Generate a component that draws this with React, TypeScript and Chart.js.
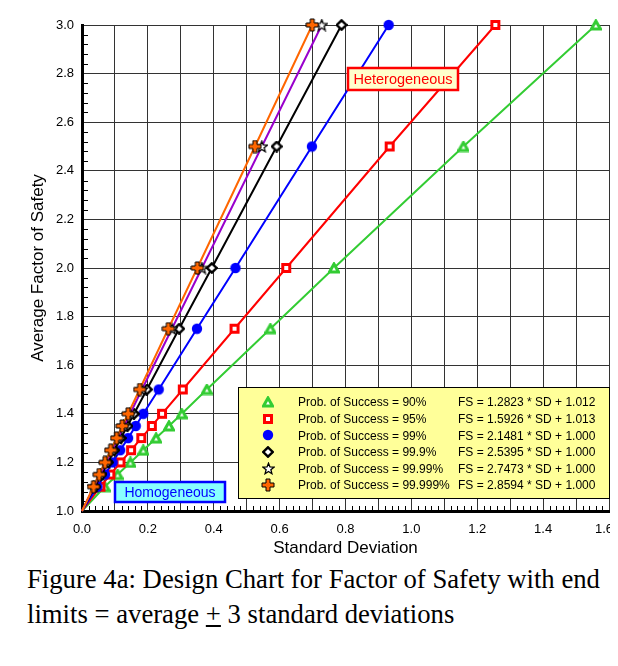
import React, { useEffect, useRef } from 'react';
import { Chart, registerables } from 'chart.js';

Chart.register(...registerables);

// Average factor of safety levels (y) shared by every series; first point is the common origin.
const FS_LEVELS = [1.0, 1.1, 1.15, 1.2, 1.25, 1.3, 1.35, 1.4, 1.5, 1.75, 2.0, 2.5, 3.0];

// Standard deviation (x) at each FS level, one list per probability of success.
const SD_90 = [0, 0.069, 0.108, 0.147, 0.186, 0.225, 0.264, 0.303, 0.379, 0.572, 0.765, 1.158, 1.56];
const SD_95 = [0, 0.056, 0.086, 0.117, 0.149, 0.18, 0.212, 0.243, 0.306, 0.463, 0.62, 0.934, 1.255];
const SD_99 = [0, 0.047, 0.07, 0.093, 0.116, 0.14, 0.163, 0.186, 0.233, 0.349, 0.466, 0.698, 0.931];
const SD_999 = [0, 0.039, 0.059, 0.079, 0.098, 0.118, 0.138, 0.158, 0.197, 0.295, 0.394, 0.591, 0.788];
const SD_9999 = [0, 0.036, 0.055, 0.073, 0.091, 0.109, 0.127, 0.146, 0.182, 0.273, 0.364, 0.546, 0.728];
const SD_99999 = [0, 0.035, 0.052, 0.07, 0.087, 0.105, 0.122, 0.14, 0.175, 0.262, 0.35, 0.525, 0.699];

const SERIES_LABELS = [
  'Prob. of Success = 90%',
  'Prob. of Success = 95%',
  'Prob. of Success = 99%',
  'Prob. of Success = 99.9%',
  'Prob. of Success = 99.99%',
  'Prob. of Success = 99.999%',
];

const EQUATIONS = [
  'FS = 1.2823 * SD + 1.012',
  'FS = 1.5926 * SD + 1.013',
  'FS = 2.1481 * SD + 1.000',
  'FS = 2.5395 * SD + 1.000',
  'FS = 2.7473 * SD + 1.000',
  'FS = 2.8594 * SD + 1.000',
];

// Labelled x ticks (gridlines are every 0.1)
const X_TICK_VALUES = [0, 0.2, 0.4, 0.6, 0.8, 1.0, 1.2, 1.4, 1.6];
const X_TICK_LABELS = ['0.0', '0.2', '0.4', '0.6', '0.8', '1.0', '1.2', '1.4', '1.6'];

const COLORS = ['#33CC33', '#FF0000', '#0000FF', '#000000', '#9900CC', '#FF6600'];

const X_TITLE = 'Standard Deviation';
const Y_TITLE = 'Average Factor of Safety';
const CAPTION_1 = 'Figure 4a: Design Chart for Factor of Safety with end';

const SANS = '"Liberation Sans", Arial, sans-serif';

type Painter = (c: CanvasRenderingContext2D, s: number) => void;

function marker(size: number, paint: Painter): HTMLCanvasElement {
  const cv = document.createElement('canvas');
  cv.width = size;
  cv.height = size;
  const c = cv.getContext('2d')!;
  paint(c, size);
  return cv;
}

function buildMarkers(): HTMLCanvasElement[] {
  const triangle = marker(12, (c) => {
    c.beginPath();
    c.moveTo(6, 2);
    c.lineTo(10.5, 10);
    c.lineTo(1.5, 10);
    c.closePath();
    c.fillStyle = '#ffffff';
    c.fill();
    c.strokeStyle = COLORS[0];
    c.lineWidth = 3;
    c.lineJoin = 'miter';
    c.stroke();
  });
  const square = marker(12, (c) => {
    c.fillStyle = '#ffffff';
    c.fillRect(2, 2, 8, 8);
    c.strokeStyle = COLORS[1];
    c.lineWidth = 3;
    c.strokeRect(2.5, 2.5, 7, 7);
  });
  const circle = marker(12, (c) => {
    c.beginPath();
    c.arc(6, 6, 5.2, 0, Math.PI * 2);
    c.fillStyle = COLORS[2];
    c.fill();
  });
  const diamond = marker(12, (c) => {
    c.beginPath();
    c.moveTo(6, 1.3);
    c.lineTo(10.7, 6);
    c.lineTo(6, 10.7);
    c.lineTo(1.3, 6);
    c.closePath();
    c.fillStyle = '#ffffff';
    c.fill();
    c.strokeStyle = '#000000';
    c.lineWidth = 2.4;
    c.stroke();
  });
  const star = marker(13, (c) => {
    c.beginPath();
    for (let k = 0; k < 10; k++) {
      const r = k % 2 === 0 ? 5.8 : 2.5;
      const ang = -Math.PI / 2 + (k * Math.PI) / 5;
      const px = 6.5 + r * Math.cos(ang);
      const py = 7 + r * Math.sin(ang);
      if (k === 0) c.moveTo(px, py);
      else c.lineTo(px, py);
    }
    c.closePath();
    c.fillStyle = '#ffffff';
    c.fill();
    c.strokeStyle = '#000000';
    c.lineWidth = 1.3;
    c.stroke();
  });
  const cross = marker(14, (c) => {
    const m = 7;
    const h = 2;
    const L = 6;
    c.beginPath();
    c.moveTo(m - h, m - L);
    c.lineTo(m + h, m - L);
    c.lineTo(m + h, m - h);
    c.lineTo(m + L, m - h);
    c.lineTo(m + L, m + h);
    c.lineTo(m + h, m + h);
    c.lineTo(m + h, m + L);
    c.lineTo(m - h, m + L);
    c.lineTo(m - h, m + h);
    c.lineTo(m - L, m + h);
    c.lineTo(m - L, m - h);
    c.lineTo(m - h, m - h);
    c.closePath();
    c.fillStyle = COLORS[5];
    c.fill();
    c.strokeStyle = '#000000';
    c.lineWidth = 1;
    c.stroke();
  });
  return [triangle, square, circle, diamond, star, cross];
}

function boxedLabel(
  ctx: CanvasRenderingContext2D,
  left: number,
  top: number,
  w: number,
  h: number,
  fill: string,
  stroke: string,
  text: string,
  fontPx: number,
) {
  ctx.save();
  ctx.fillStyle = fill;
  ctx.fillRect(left, top, w, h);
  ctx.strokeStyle = stroke;
  ctx.lineWidth = 2.5;
  ctx.strokeRect(left, top, w, h);
  ctx.fillStyle = stroke;
  ctx.font = `${fontPx}px ${SANS}`;
  ctx.textAlign = 'center';
  ctx.textBaseline = 'middle';
  ctx.fillText(text, left + w / 2, top + h / 2 + 1);
  ctx.restore();
}

export default function App() {
  const canvasRef = useRef<HTMLCanvasElement | null>(null);

  useEffect(() => {
    const canvas = canvasRef.current;
    if (!canvas) return;
    const markers = buildMarkers();
    const series = [SD_90, SD_95, SD_99, SD_999, SD_9999, SD_99999];

    const datasets = series.map((sd, i) => ({
      label: SERIES_LABELS[i],
      data: sd.map((x, j) => ({ x, y: FS_LEVELS[j] })),
      borderColor: COLORS[i],
      backgroundColor: COLORS[i],
      borderWidth: 2,
      pointStyle: markers[i],
      pointRadius: (c: any) => (c.dataIndex === 0 ? 0 : 5),
      fill: false,
      tension: 0,
      clip: false as any,
      order: series.length - i,
    }));

    const decorations = {
      id: 'decorations',
      afterDraw(chart: any) {
        const { ctx, chartArea: a, scales } = chart;
        const xs = scales.x;
        // x tick labels; the last one is pulled in so it stays inside the canvas
        ctx.save();
        ctx.font = `13px ${SANS}`;
        ctx.fillStyle = '#000';
        ctx.textAlign = 'center';
        ctx.textBaseline = 'top';
        X_TICK_VALUES.forEach((v, i) => {
          const text = X_TICK_LABELS[i];
          const w = ctx.measureText(text).width;
          const px = Math.min(xs.getPixelForValue(v), a.right + 4 - w / 2);
          ctx.fillText(text, px, a.bottom + 12);
        });
        ctx.restore();
      },
      beforeDatasetsDraw(chart: any) {
        const { ctx, chartArea: a, scales } = chart;
        const xs = scales.x;
        const ys = scales.y;
        ctx.save();
        ctx.strokeStyle = '#000';
        ctx.lineWidth = 1;
        ctx.beginPath();
        // minor ticks on the x axis every 0.02
        for (let k = 1; k < 80; k++) {
          if (k % 5 === 0) continue;
          const px = Math.round(xs.getPixelForValue(k * 0.02)) + 0.5;
          ctx.moveTo(px, a.bottom);
          ctx.lineTo(px, a.bottom - 5);
        }
        // minor ticks on the y axis every 0.04
        for (let k = 1; k < 50; k++) {
          if (k % 5 === 0) continue;
          const py = Math.round(ys.getPixelForValue(1 + k * 0.04)) + 0.5;
          ctx.moveTo(a.left, py);
          ctx.lineTo(a.left + 6, py);
        }
        ctx.stroke();
        ctx.restore();
      },
      afterDatasetsDraw(chart: any) {
        const { ctx, chartArea: a } = chart;

        boxedLabel(ctx, a.left + 266, a.top + 43, 110, 22, '#FFFFCC', '#FF0000', 'Heterogeneous', 14.5);
        boxedLabel(ctx, a.left + 33, a.top + 457, 110, 20, '#88FFFF', '#0000FF', 'Homogeneous', 14);

        // legend panel, anchored to the right edge of the plot
        const lw = 371;
        const lh = 111;
        const lx = a.right - lw;
        const ly = a.top + 362;
        ctx.save();
        ctx.fillStyle = '#FFFF99';
        ctx.fillRect(lx, ly, lw, lh);
        ctx.strokeStyle = '#000';
        ctx.lineWidth = 1;
        ctx.strokeRect(lx + 0.5, ly + 0.5, lw, lh);
        ctx.font = `12px ${SANS}`;
        ctx.fillStyle = '#000';
        ctx.textAlign = 'left';
        ctx.textBaseline = 'middle';
        for (let i = 0; i < SERIES_LABELS.length; i++) {
          const cy = ly + 15 + i * 16.6;
          const m = markers[i];
          ctx.drawImage(m, Math.round(lx + 30 - m.width / 2), Math.round(cy - m.height / 2));
          ctx.fillText(SERIES_LABELS[i], lx + 60, cy + 1);
          ctx.fillText(EQUATIONS[i], lx + 220, cy + 1);
        }
        ctx.restore();
      },
    };

    const chart = new Chart(canvas, {
      type: 'line',
      data: { datasets: datasets as any },
      options: {
        animation: false,
        responsive: false,
        events: [],
        layout: { padding: { top: 17, right: 9, left: 0, bottom: 0 } },
        plugins: {
          legend: { display: false },
          tooltip: { enabled: false },
        },
        scales: {
          x: {
            type: 'linear',
            min: 0,
            max: 1.6,
            afterFit: (s: any) => {
              s.height = 49;
              s.paddingLeft = 0;
              s.paddingRight = 0;
            },
            ticks: {
              stepSize: 0.1,
              autoSkip: false,
              maxRotation: 0,
              display: false,
            },
            grid: { color: '#333', lineWidth: 1, drawTicks: false },
            border: { color: '#000', width: 3 },
            title: {
              display: true,
              text: X_TITLE,
              color: '#000',
              font: { family: SANS, size: 17 },
              padding: { top: 0, bottom: 1 },
            },
          },
          y: {
            type: 'linear',
            min: 1,
            max: 3,
            afterFit: (s: any) => {
              s.width = 74;
              s.paddingTop = 0;
              s.paddingBottom = 0;
            },
            ticks: {
              stepSize: 0.2,
              padding: 8,
              color: '#000',
              font: { family: SANS, size: 13 },
              callback: (v: any) => Number(v).toFixed(1),
            },
            grid: { color: '#333', lineWidth: 1, drawTicks: false },
            border: { color: '#000', width: 3 },
            title: {
              display: true,
              text: Y_TITLE,
              color: '#000',
              font: { family: SANS, size: 17 },
              padding: { top: 20, bottom: 0 },
            },
          },
        },
      },
      plugins: [decorations],
    });

    return () => chart.destroy();
  }, []);

  return (
    <div style={{ position: 'relative', width: 602, height: 650 }}>
      <div style={{ position: 'absolute', left: -2, top: -2, width: 612, height: 2, background: '#000' }} />
      <div style={{ position: 'absolute', left: -2, top: -2, width: 2, height: 660, background: '#000' }} />
      <canvas
        ref={canvasRef}
        width={610}
        height={552}
        style={{ position: 'absolute', left: 0, top: 0, width: 610, height: 552 }}
      />
      <div
        style={{
          position: 'absolute',
          left: 19,
          top: 554,
          width: 590,
          fontFamily: '"Liberation Serif", "Times New Roman", serif',
          fontSize: 26.7,
          lineHeight: '35px',
          color: '#000',
          whiteSpace: 'nowrap',
        }}
      >
        <div>{CAPTION_1}</div>
        <div>
          limits = average <u>+</u> 3 standard deviations
        </div>
      </div>
    </div>
  );
}
